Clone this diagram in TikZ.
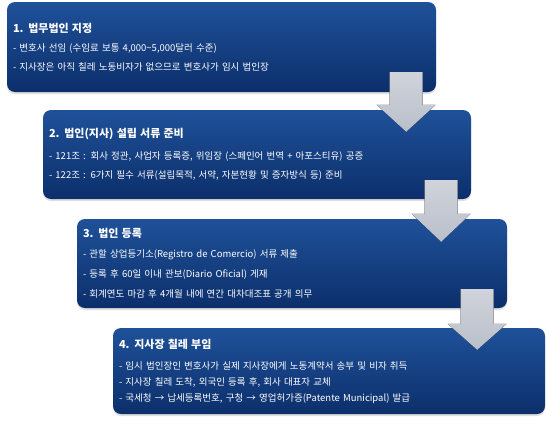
\documentclass[tikz,border=0pt]{standalone}
\usepackage{fontspec}
\setmainfont{Noto Sans CJK KR}
\usetikzlibrary{calc,shadows}

\definecolor{boxtop}{HTML}{1F5199}
\definecolor{boxbot}{HTML}{0C2F6B}
\definecolor{arrtop}{HTML}{D0D3DA}
\definecolor{arrbot}{HTML}{B9BFCA}

\begin{document}
\begin{tikzpicture}[x=1pt, y=-1pt,
    stepbox/.style={rounded corners=8pt, top color=boxtop, bottom color=boxbot,
      draw=none, text=white, align=left, inner xsep=6pt, inner ysep=0pt,
      drop shadow={shadow xshift=0pt, shadow yshift=-2pt, opacity=.25},
      font=\fontsize{9.5}{19}\selectfont},
    blockarrow/.style={top color=arrtop, bottom color=arrbot, draw=none}]

  \useasboundingbox (0,0) rectangle (546,424);

  % the four steps, each one shifted right
  \node [stepbox, text width=417pt, minimum height=90pt] (b1) at (221.5, 47)
    {{\fontsize{11}{19}\selectfont\bfseries 1. 법무법인 지정}\\
     - 변호사 선임 (수임료 보통 4,000\textasciitilde5,000달러 수준)\\
     - 지사장은 아직 칠레 노동비자가 없으므로 변호사가 임시 법인장};

  \node [stepbox, text width=416pt, minimum height=89pt] (b2) at (257, 154.5)
    {{\fontsize{11}{19}\selectfont\bfseries 2. 법인(지사) 설립 서류 준비}\\[3pt]
     - 121조 : 회사 정관, 사업자 등록증, 위임장 (스페인어 번역 + 아포스티유) 공증\\
     - 122조 : 6가지 필수 서류(설립목적, 서약, 자본현황 및 증자방식 등) 준비};

  \node [stepbox, text width=418pt, minimum height=89pt] (b3) at (292, 263.5)
    {{\fontsize{11}{19}\selectfont\bfseries 3. 법인 등록}\\[1pt]
     - 관할 상업등기소(Registro de Comercio) 서류 제출\\[1pt]
     - 등록 후 60일 이내 관보(Diario Oficial) 게재\\[1pt]
     - 회계연도 마감 후 4개월 내에 연간 대차대조표 공개 의무};

  \node [stepbox, text width=420pt, minimum height=86pt,
         font=\fontsize{9.5}{16}\selectfont] (b4) at (329, 371)
    {{\fontsize{11}{16}\selectfont\bfseries 4. 지사장 칠레 부임}\\[5pt]
     - 임시 법인장인 변호사가 실제 지사장에게 노동계약서 송부 및 비자 취득\\
     - 지사장 칠레 도착, 외국인 등록 후, 회사 대표자 교체\\
     - 국세청 → 납세등록번호, 구청 → 영업허가증(Patente Municipal) 발급};

  % arrows from one step down to the next
  \fill [blockarrow] let \p1 = ($(b1.south east)+(-30,-20)$),
                         \p2 = ($(b2.north)+(0,-5)$),
                         \p3 = ($(b2.north)+(0,22)$) in
    (\x1-16.5,\y1) -- (\x1+16.5,\y1) -- (\x1+16.5,\y2) -- (\x1+29.5,\y2)
    -- (\x1,\y3) -- (\x1-29.5,\y2) -- (\x1-16.5,\y2) -- cycle;

  \fill [blockarrow] let \p1 = ($(b2.south east)+(-30,-19)$),
                         \p2 = ($(b3.north)+(0,-5)$),
                         \p3 = ($(b3.north)+(0,23)$) in
    (\x1-16.5,\y1) -- (\x1+16.5,\y1) -- (\x1+16.5,\y2) -- (\x1+29.5,\y2)
    -- (\x1,\y3) -- (\x1-29.5,\y2) -- (\x1-16.5,\y2) -- cycle;

  \fill [blockarrow] let \p1 = ($(b3.south east)+(-30,-19)$),
                         \p2 = ($(b4.north)+(0,-4)$),
                         \p3 = ($(b4.north)+(0,22)$) in
    (\x1-16.5,\y1) -- (\x1+16.5,\y1) -- (\x1+16.5,\y2) -- (\x1+29.5,\y2)
    -- (\x1,\y3) -- (\x1-29.5,\y2) -- (\x1-16.5,\y2) -- cycle;

\end{tikzpicture}
\end{document}
